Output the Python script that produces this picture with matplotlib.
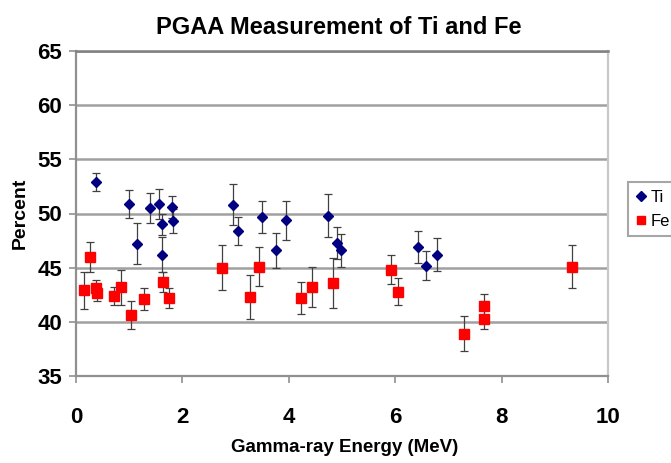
import matplotlib
matplotlib.use("Agg")
import matplotlib.pyplot as plt
from matplotlib.lines import Line2D

FONT = ['Liberation Sans', 'DejaVu Sans']

# Ti data: energy (MeV), percent, error
ti_energy = [0.37, 1.00, 1.14, 1.39, 1.56, 1.61, 1.61, 1.80, 1.83, 2.96,
             3.05, 3.50, 3.76, 3.95, 4.73, 4.90, 4.99, 6.43, 6.58, 6.79]
ti_percent = [52.9, 50.9, 47.2, 50.5, 50.9, 49.0, 46.2, 50.6, 49.3, 50.8,
              48.4, 49.7, 46.6, 49.4, 49.8, 47.3, 46.6, 46.9, 45.2, 46.2]
ti_err = [0.8, 1.3, 1.9, 1.4, 1.4, 1.0, 1.6, 1.0, 1.1, 1.9,
          1.3, 1.5, 1.6, 1.8, 2.0, 1.5, 1.5, 1.5, 1.35, 1.55]

# Fe data
fe_energy = [0.15, 0.26, 0.38, 0.40, 0.71, 0.84, 1.03, 1.28, 1.64, 1.75, 2.74,
             3.28, 3.44, 4.23, 4.43, 4.84, 5.93, 6.05, 7.30, 7.66, 7.66, 9.32]
fe_percent = [42.9, 46.0, 43.1, 42.7, 42.4, 43.2, 40.6, 42.1, 43.7, 42.2, 45.0,
              42.3, 45.1, 42.2, 43.2, 43.6, 44.8, 42.8, 38.9, 41.5, 40.3, 45.1]
fe_err = [1.7, 1.4, 0.8, 0.8, 0.8, 1.6, 1.3, 1.0, 0.9, 0.9, 2.1,
          2.0, 1.8, 1.45, 1.85, 2.3, 1.35, 1.25, 1.6, 1.1, 1.0, 2.0]

x_ticks = [0, 2, 4, 6, 8, 10]
y_ticks = [35, 40, 45, 50, 55, 60, 65]

TI_COLOR = '#000080'
FE_COLOR = '#ff0000'

fig = plt.figure(figsize=(6.71, 4.63), dpi=100)
ax = fig.add_axes([76/671, 1-376/463, 532/671, 325/463])

ax.errorbar(ti_energy, ti_percent, yerr=ti_err, fmt='D', color=TI_COLOR,
            markersize=5.5, ecolor='#404040', elinewidth=0.9, capsize=3,
            capthick=0.9, zorder=3)
ax.errorbar(fe_energy, fe_percent, yerr=fe_err, fmt='s', color=FE_COLOR,
            markersize=6.5, ecolor='#404040', elinewidth=0.9, capsize=3,
            capthick=0.9, zorder=3)

ax.set_xlim(0, 10)
ax.set_ylim(35, 65)
ax.set_xticks(x_ticks)
ax.set_yticks(y_ticks)
ax.yaxis.grid(True, color='#a0a0a0', linewidth=1.8)
ax.set_axisbelow(True)

for s in ['left', 'bottom']:
    ax.spines[s].set_color('#909090')
    ax.spines[s].set_linewidth(1.6)
ax.spines['right'].set_color('#c8c8c8')
ax.spines['right'].set_linewidth(1.6)
ax.spines['top'].set_color('#808080')
ax.spines['top'].set_linewidth(1.8)

ax.tick_params(axis='y', direction='out', length=5, width=1.2, color='#909090', pad=5)
ax.tick_params(axis='x', direction='out', length=5, width=1.2, color='#909090', pad=17)
for lab in ax.get_xticklabels() + ax.get_yticklabels():
    lab.set_family(FONT)
    lab.set_fontweight('bold')
    lab.set_fontsize(16)

fig.text(339/671, 1-28/463, 'PGAA Measurement of Ti and Fe', ha='center', va='center',
         family=FONT, fontweight='bold', fontsize=17)
fig.text(345/671, 1-448/463, 'Gamma-ray Energy (MeV)', ha='center', va='center',
         family=FONT, fontweight='bold', fontsize=13.5)
fig.text(20/671, 1-213/463, 'Percent', ha='center', va='center', rotation=90,
         family=FONT, fontweight='bold', fontsize=14)

handles = [Line2D([], [], linestyle='none', marker='D', color=TI_COLOR, markersize=5),
           Line2D([], [], linestyle='none', marker='s', color=FE_COLOR, markersize=6)]
leg = fig.legend(handles=handles, labels=['Ti', 'Fe'],
                 loc='upper left', bbox_to_anchor=(628/671, 1-182/463),
                 fancybox=False, frameon=True, edgecolor='#909090',
                 prop={'family': FONT, 'size': 12}, handlelength=0.6,
                 handletextpad=0.3, borderpad=0.45, labelspacing=0.55,
                 borderaxespad=0)
leg.get_frame().set_linewidth(1.5)

fig.savefig('out.png', dpi=100)
